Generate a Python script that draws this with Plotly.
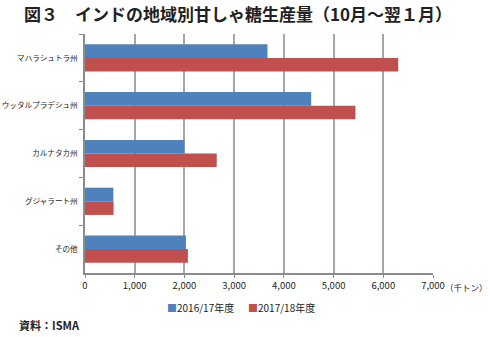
import plotly.graph_objects as go

categories = ["マハラシュトラ州", "ウッタルプラデシュ州", "カルナタカ州", "グジャラート州", "その他"]
s2016 = [3670, 4550, 2000, 570, 2030]
s2017 = [6300, 5440, 2650, 575, 2070]
series_names = ["2016/17年度", "2017/18年度"]
colors = ["#4F81BD", "#C0504D"]
xticks = [0, 1000, 2000, 3000, 4000, 5000, 6000, 7000]
xticklabels = ["0", "1,000", "2,000", "3,000", "4,000", "5,000", "6,000", "7,000"]

FONT = "Noto Sans CJK JP"
W, H = 490, 337
L, R, T, B = 85, 57, 34, 64
PW, PH = W - L - R, H - T - B

def px(x):
    return (x - L) / PW

def py(y):
    return (H - B - y) / PH

fig = go.Figure()
for name, vals, col in zip(series_names, [s2016, s2017], colors):
    fig.add_trace(go.Bar(y=categories, x=vals, orientation="h", name=name,
                         marker=dict(color=col, line=dict(width=0)), showlegend=False))

fig.update_layout(
    width=W, height=H,
    margin=dict(l=L, r=R, t=T, b=B, autoexpand=False),
    paper_bgcolor="white", plot_bgcolor="white",
    barmode="group", bargap=0.43, bargroupgap=0,
    font=dict(family=FONT, size=9, color="#222"),
    showlegend=False,
)
fig.update_xaxes(range=[0, 7000], tickvals=xticks, ticktext=xticklabels,
                 showgrid=True, gridcolor="#A6A6A6", gridwidth=1.5,
                 showline=True, linecolor="#8C8C8C", linewidth=1.5,
                 ticks="outside", ticklen=3, tickcolor="#8C8C8C",
                 tickfont=dict(size=9.5), zeroline=False, automargin=False)
fig.update_yaxes(autorange="reversed", showline=True, linecolor="#8C8C8C", linewidth=1.5,
                 ticks="outside", ticklen=4, tickcolor="#8C8C8C", tickson="boundaries",
                 tickfont=dict(size=7.6), ticklabelstandoff=4, showgrid=False, automargin=False)

fig.add_annotation(text="<b>図３　インドの地域別甘しゃ糖生産量（10月～翌１月）</b>",
                   xref="paper", yref="paper", x=px(22), y=py(13), xanchor="left", yanchor="middle",
                   showarrow=False, font=dict(size=17, family=FONT, color="#222"))
fig.add_annotation(text="（千トン）", xref="paper", yref="paper", x=px(490), y=py(287),
                   xanchor="right", yanchor="middle", showarrow=False,
                   font=dict(size=8.5, family=FONT, color="#222"))
fig.add_annotation(text="<b>資料：ISMA</b>", xref="paper", yref="paper", x=px(17), y=py(325),
                   xanchor="left", yanchor="middle", showarrow=False,
                   font=dict(size=11, family=FONT, color="#222"))

# legend drawn as text items
legend_x = [165, 246]
for name, col, lx in zip(series_names, colors, legend_x):
    fig.add_annotation(text=f"<span style='color:{col}'>■</span>{name}", xref="paper", yref="paper",
                       x=px(lx), y=py(307), xanchor="left", yanchor="middle", showarrow=False,
                       font=dict(size=10, family=FONT, color="#222"))

fig.write_html("out.html")
